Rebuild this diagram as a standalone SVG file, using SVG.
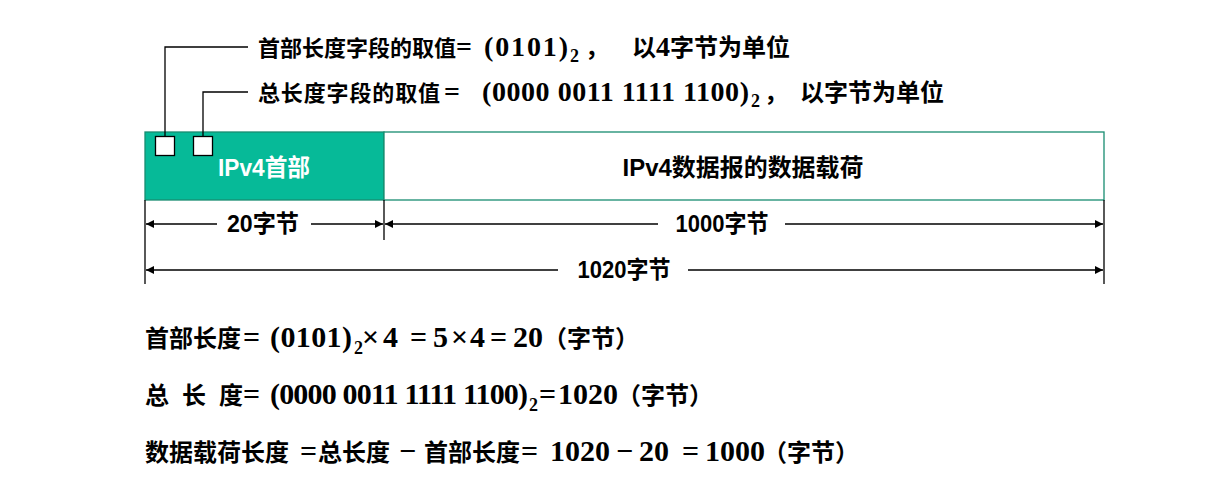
<svg xmlns="http://www.w3.org/2000/svg" width="1228" height="497" viewBox="0 0 1228 497">
<style>
.cj{font-family:"Noto Sans CJK SC",sans-serif;font-weight:bold;}
.m{font-family:"Liberation Serif","DejaVu Serif",serif;font-weight:bold;}
.lb{font-family:"Liberation Sans","Noto Sans CJK SC",sans-serif;font-weight:bold;font-size:24px;}
.ln{stroke:#000;stroke-width:1.3;fill:none;}
.dim{stroke:#000;stroke-width:1.3;fill:none;marker-end:url(#ah);}
</style>
<defs>
<marker id="ah" viewBox="0 0 10 10" refX="10" refY="5" markerWidth="8" markerHeight="8" markerUnits="userSpaceOnUse" orient="auto"><path d="M0,0 L10,5 L0,10 z" fill="#000"/></marker>
</defs>
<rect width="1228" height="497" fill="#fff"/>

<g id="header">
<rect x="145" y="132" width="239" height="68" fill="#06BA98" stroke="#178C70" stroke-width="1.3"/>
<text class="lb" x="264" y="176" text-anchor="middle" fill="#fff" textLength="92" lengthAdjust="spacingAndGlyphs">IPv4首部</text>
</g>
<g id="payload">
<rect x="384" y="132" width="720" height="68" fill="#fff" stroke="#178C70" stroke-width="1.3"/>
<text class="lb" x="743" y="176" text-anchor="middle" fill="#000" textLength="241" lengthAdjust="spacingAndGlyphs">IPv4数据报的数据载荷</text>
</g>
<g id="hlen-field"><rect x="155.5" y="136.5" width="19" height="19" fill="#fff" stroke="#000" stroke-width="1.3"/></g>
<g id="tlen-field"><rect x="193.5" y="136.5" width="19" height="19" fill="#fff" stroke="#000" stroke-width="1.3"/></g>

<g id="connectors">
<path class="ln" d="M165 136.5 V47 H248"/>
<path class="ln" d="M203 136.5 V92 H248"/>
<path class="ln" d="M145 200 V284 M384 200 V240 M1104 200 V284"/>
<path class="dim" d="M217 224 H146"/>
<path class="dim" d="M311 224 H383"/>
<path class="dim" d="M658 224 H385"/>
<path class="dim" d="M785 224 H1103"/>
<path class="dim" d="M558 270 H146"/>
<path class="dim" d="M688 270 H1103"/>
</g>

<g id="dim-labels">
<text class="lb" x="263" y="232" text-anchor="middle" textLength="72" lengthAdjust="spacingAndGlyphs">20字节</text>
<text class="lb" x="722" y="232" text-anchor="middle" textLength="93" lengthAdjust="spacingAndGlyphs">1000字节</text>
<text class="lb" x="624" y="278" text-anchor="middle" textLength="93" lengthAdjust="spacingAndGlyphs">1020字节</text>
</g>

<g id="note-hlen">
<text class="cj" x="258" y="56" font-size="22">首部长度字段的取值</text>
<text class="m" x="456" y="56" font-size="28">=</text>
<text class="m" x="484" y="56" font-size="28" textLength="84">(0101)</text>
<text class="m" x="570" y="62" font-size="18">2</text>
<text class="cj" x="585" y="56" font-size="24">，</text>
<text class="cj" x="632" y="56" font-size="24">以<tspan class="m" font-size="28">4</tspan>字节为单位</text>
</g>
<g id="note-tlen">
<text class="cj" x="258" y="101" font-size="22" textLength="182">总长度字段的取值</text>
<text class="m" x="444" y="101" font-size="28">=</text>
<text class="m" x="482" y="101" font-size="28" textLength="267">(0000 0011 1111 1100)</text>
<text class="m" x="751" y="107" font-size="18">2</text>
<text class="cj" x="764" y="101" font-size="24">，</text>
<text class="cj" x="800" y="101" font-size="24">以字节为单位</text>
</g>

<g id="calc1">
<text class="cj" x="145" y="347" font-size="24">首部长度</text>
<text class="m" font-size="30" y="347"><tspan x="243">=</tspan><tspan x="270" textLength="82">(0101)</tspan><tspan x="362">×</tspan><tspan x="383">4</tspan><tspan x="410">=</tspan><tspan x="433">5</tspan><tspan x="451">×</tspan><tspan x="470">4</tspan><tspan x="490">=</tspan><tspan x="513">20</tspan></text>
<text class="m" x="354" y="354" font-size="18">2</text>
<text class="cj" x="543" y="347" font-size="24">（字节）</text>
</g>
<g id="calc2">
<text class="cj" font-size="24" y="404"><tspan x="145">总</tspan><tspan x="182">长</tspan><tspan x="219">度</tspan></text>
<text class="m" font-size="30" y="404"><tspan x="243">=</tspan><tspan x="270" textLength="258">(0000 0011 1111 1100)</tspan><tspan x="539">=</tspan><tspan x="558">1020</tspan></text>
<text class="m" x="529" y="411" font-size="18">2</text>
<text class="cj" x="617" y="404" font-size="24">（字节）</text>
</g>
<g id="calc3">
<text class="cj" x="145" y="461" font-size="24">数据载荷长度</text>
<text class="m" font-size="30" y="461"><tspan x="300">=</tspan></text>
<text class="cj" x="318" y="461" font-size="24">总长度</text>
<text class="m" font-size="30" y="461"><tspan x="399">−</tspan></text>
<text class="cj" x="424" y="461" font-size="24">首部长度</text>
<text class="m" font-size="30" y="461"><tspan x="521">=</tspan><tspan x="550">1020</tspan><tspan x="616">−</tspan><tspan x="639">20</tspan><tspan x="682">=</tspan><tspan x="705">1000</tspan></text>
<text class="cj" x="763" y="461" font-size="24">（字节）</text>
</g>
</svg>
